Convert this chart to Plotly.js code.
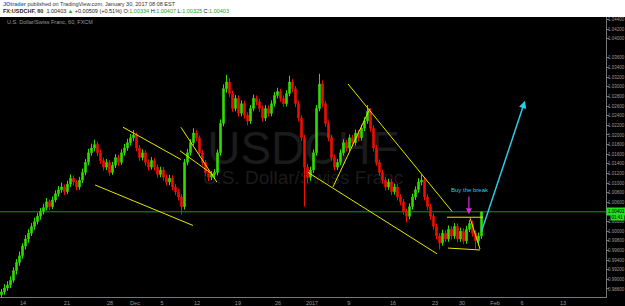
<!DOCTYPE html>
<html><head><meta charset="utf-8">
<script src="https://cdn.plot.ly/plotly-3.0.1.min.js"></script>
<style>html,body{margin:0;padding:0;background:#000;}#chart{width:625px;height:306px;}</style>
</head><body><div id="chart"></div>
<script>
const openP = [0.9868,0.9874,0.9882,0.9888,0.9898,0.9918,0.9935,0.9949,0.9969,0.9984,
0.9996,1.0010,1.0020,1.0031,1.0041,1.0049,1.0061,1.0051,1.0065,1.0078,
1.0086,1.0092,1.0082,1.0098,1.0110,1.0102,1.0092,1.0106,1.0122,1.0143,
1.0163,1.0173,1.0180,1.0163,1.0147,1.0133,1.0143,1.0122,1.0137,1.0153,
1.0143,1.0163,1.0173,1.0184,1.0194,1.0200,1.0173,1.0153,1.0163,1.0143,
1.0133,1.0147,1.0133,1.0118,1.0127,1.0112,1.0102,1.0110,1.0092,1.0082,
1.0071,1.0051,1.0143,1.0163,1.0184,1.0204,1.0194,1.0163,1.0143,1.0122,
1.0112,1.0118,1.0122,1.0163,1.0224,1.0296,1.0310,1.0286,1.0255,1.0276,
1.0245,1.0265,1.0241,1.0229,1.0255,1.0276,1.0269,1.0255,1.0235,1.0255,
1.0245,1.0265,1.0282,1.0290,1.0276,1.0265,1.0286,1.0310,1.0296,1.0265,
1.0235,1.0194,1.0133,1.0112,1.0127,1.0163,1.0255,1.0306,1.0265,1.0224,
1.0194,1.0153,1.0133,1.0143,1.0163,1.0184,1.0173,1.0194,1.0184,1.0204,
1.0194,1.0214,1.0229,1.0249,1.0214,1.0173,1.0143,1.0122,1.0106,1.0092,
1.0102,1.0082,1.0092,1.0071,1.0061,1.0041,1.0031,1.0051,1.0071,1.0086,
1.0102,1.0106,1.0071,1.0051,1.0031,1.0010,0.9990,0.9976,0.9996,0.9984,
1.0004,0.9990,1.0010,0.9984,1.0000,0.9980,1.0004,1.0016,0.9996,0.9980,
0.9990];
const highP = [0.9880,0.9890,0.9896,0.9906,0.9925,0.9942,0.9958,0.9975,0.9992,1.0004,
1.0017,1.0028,1.0038,1.0048,1.0057,1.0069,1.0066,1.0072,1.0085,1.0094,
1.0101,1.0097,1.0105,1.0118,1.0116,1.0107,1.0113,1.0130,1.0150,1.0171,
1.0182,1.0190,1.0186,1.0170,1.0153,1.0150,1.0148,1.0144,1.0160,1.0159,
1.0170,1.0181,1.0192,1.0202,1.0210,1.0205,1.0179,1.0170,1.0168,1.0149,
1.0154,1.0152,1.0139,1.0134,1.0133,1.0118,1.0117,1.0116,1.0098,1.0088,
1.0077,1.0150,1.0171,1.0191,1.0214,1.0210,1.0199,1.0169,1.0148,1.0128,
1.0125,1.0129,1.0170,1.0232,1.0305,1.0325,1.0318,1.0292,1.0283,1.0282,
1.0272,1.0271,1.0247,1.0262,1.0284,1.0282,1.0275,1.0261,1.0262,1.0261,
1.0272,1.0289,1.0298,1.0296,1.0282,1.0293,1.0323,1.0316,1.0302,1.0271,
1.0241,1.0200,1.0140,1.0134,1.0170,1.0262,1.0327,1.0313,1.0271,1.0230,
1.0200,1.0159,1.0150,1.0170,1.0191,1.0190,1.0201,1.0200,1.0211,1.0210,
1.0221,1.0237,1.0262,1.0255,1.0220,1.0179,1.0149,1.0128,1.0112,1.0109,
1.0108,1.0099,1.0098,1.0077,1.0067,1.0047,1.0058,1.0078,1.0093,1.0110,
1.0118,1.0112,1.0077,1.0057,1.0037,1.0016,0.9996,1.0003,1.0002,1.0012,
1.0010,1.0017,1.0016,1.0007,1.0006,1.0011,1.0023,1.0022,1.0002,0.9997,
1.0041];
const lowP = [0.9862,0.9868,0.9876,0.9882,0.9893,0.9910,0.9928,0.9943,0.9962,0.9976,
0.9990,1.0003,1.0014,1.0024,1.0035,1.0043,1.0044,1.0046,1.0060,1.0072,
1.0080,1.0075,1.0077,1.0092,1.0095,1.0085,1.0086,1.0100,1.0116,1.0137,
1.0157,1.0166,1.0156,1.0140,1.0126,1.0127,1.0115,1.0117,1.0131,1.0136,
1.0138,1.0157,1.0167,1.0178,1.0187,1.0166,1.0146,1.0147,1.0136,1.0126,
1.0128,1.0126,1.0111,1.0112,1.0105,1.0095,1.0096,1.0085,1.0075,1.0064,
1.0035,1.0045,1.0137,1.0157,1.0178,1.0187,1.0156,1.0136,1.0115,1.0104,
1.0106,1.0110,1.0116,1.0157,1.0218,1.0288,1.0279,1.0248,1.0249,1.0238,
1.0239,1.0234,1.0220,1.0223,1.0249,1.0262,1.0248,1.0228,1.0229,1.0238,
1.0239,1.0259,1.0276,1.0269,1.0258,1.0259,1.0280,1.0289,1.0258,1.0228,
1.0187,1.0051,1.0100,1.0105,1.0121,1.0157,1.0249,1.0258,1.0217,1.0187,
1.0146,1.0126,1.0127,1.0137,1.0157,1.0166,1.0167,1.0177,1.0178,1.0187,
1.0188,1.0208,1.0223,1.0207,1.0166,1.0136,1.0115,1.0099,1.0085,1.0086,
1.0075,1.0076,1.0064,1.0054,1.0034,1.0018,1.0025,1.0045,1.0065,1.0080,
1.0095,1.0064,1.0044,1.0024,1.0003,0.9983,0.9962,0.9970,0.9977,0.9978,
0.9983,0.9984,0.9977,0.9978,0.9973,0.9974,0.9998,0.9989,0.9964,0.9970,
0.9984];
const closeP = [0.9874,0.9882,0.9888,0.9898,0.9918,0.9935,0.9949,0.9969,0.9984,0.9996,
1.0010,1.0020,1.0031,1.0041,1.0049,1.0061,1.0051,1.0065,1.0078,1.0086,
1.0092,1.0082,1.0098,1.0110,1.0102,1.0092,1.0106,1.0122,1.0143,1.0163,
1.0173,1.0180,1.0163,1.0147,1.0133,1.0143,1.0122,1.0137,1.0153,1.0143,
1.0163,1.0173,1.0184,1.0194,1.0200,1.0173,1.0153,1.0163,1.0143,1.0133,
1.0147,1.0133,1.0118,1.0127,1.0112,1.0102,1.0110,1.0092,1.0082,1.0071,
1.0051,1.0143,1.0163,1.0184,1.0204,1.0194,1.0163,1.0143,1.0122,1.0112,
1.0118,1.0122,1.0163,1.0224,1.0296,1.0310,1.0286,1.0255,1.0276,1.0245,
1.0265,1.0241,1.0229,1.0255,1.0276,1.0269,1.0255,1.0235,1.0255,1.0245,
1.0265,1.0282,1.0290,1.0276,1.0265,1.0286,1.0310,1.0296,1.0265,1.0235,
1.0194,1.0133,1.0112,1.0127,1.0163,1.0255,1.0306,1.0265,1.0224,1.0194,
1.0153,1.0133,1.0143,1.0163,1.0184,1.0173,1.0194,1.0184,1.0204,1.0194,
1.0214,1.0229,1.0249,1.0214,1.0173,1.0143,1.0122,1.0106,1.0092,1.0102,
1.0082,1.0092,1.0071,1.0061,1.0041,1.0031,1.0051,1.0071,1.0086,1.0102,
1.0106,1.0071,1.0051,1.0031,1.0010,0.9990,0.9976,0.9996,0.9984,1.0004,
0.9990,1.0010,0.9984,1.0000,0.9980,1.0004,1.0016,0.9996,0.9980,0.9990,
1.0040];
const lastPrice = 1.00403;
const priceTicks = [0.988,0.990,0.992,0.994,0.996,0.998,1.000,1.002,1.006,1.008,1.010,1.012,1.014,1.016,1.018,1.020,1.022,1.024,1.026,1.028,1.030,1.032,1.034,1.036,1.040,1.042,1.044];
const dateTickPos = [7.2,21.8,36.2,44.5,53.5,65.2,78.8,92.2,103.5,115.8,130.5,144.5,153.5,164.5,173.5,187.2];
const dateTickText = ['14','21','28','Dec','5','12','19','26','2017','9','16','23','30','Feb','6','13'];
// user drawings: [x0,x1] in bar index, [y0,y1] in price
const trendX = [[40.5,59.8],[31.2,63.8],[59.8,71.8],[59.5,70.8],[115.5,150.2],[110.5,122.8],[102.2,145.2],[148.5,160.5],[148.8,159.5],[156.2,159.5]];
const trendY = [[1.0216,1.0149],[1.0096,1.0012],[1.0216,1.0102],[1.0167,1.0116],[1.0306,1.0041],[1.0092,1.0255],[1.0122,0.9953],[1.0029,1.0029],[0.9965,0.9961],[1.0027,0.9963]];
const cyanArrow = {tail:[159.8,0.9996], head:[174.5,1.0271]};
const pinkArrow = {tail:[155.8,1.0075], head:[155.8,1.0035]};
const noteText = 'Buy the break';
const notePos = [156.2,1.0086];

const barIdx = closeP.map((_, i) => i);
const traces = [{
  type:'candlestick', x: barIdx, open: openP, high: highP, low: lowP, close: closeP,
  increasing:{line:{color:'#33dd00', width:1}, fillcolor:'#33dd00'},
  decreasing:{line:{color:'#ee1100', width:1}, fillcolor:'#ee1100'},
  whiskerwidth:0, hoverinfo:'skip', showlegend:false
}];
trendX.forEach((xs, k) => traces.push({type:'scatter', mode:'lines', x: xs, y: trendY[k],
  line:{color:'#e6e600', width:1}, hoverinfo:'skip', showlegend:false}));

const layout = {
  width:625, height:306,
  margin:{l:0, r:19, t:17, b:9},
  paper_bgcolor:'#000', plot_bgcolor:'#000',
  font:{family:'Liberation Sans, Arial, sans-serif', color:'#999'},
  showlegend:false, hovermode:false,
  xaxis:{range:[-0.5,201.5], rangeslider:{visible:false}, showgrid:false, zeroline:false,
    tickmode:'array', tickvals: dateTickPos, ticktext: dateTickText,
    tickfont:{size:5.5, color:'#999'}, ticks:'', showline:true, linecolor:'#777', linewidth:1},
  yaxis:{range:[0.98633,1.0445], side:'right', showgrid:false, zeroline:false,
    tickmode:'array', tickvals: priceTicks, tickformat:'.5f',
    tickfont:{size:4.5, color:'#999'}, ticks:'outside', ticklen:2, tickcolor:'#777',
    ticklabelstandoff:-2,
    showline:true, linecolor:'#777', linewidth:1},
  shapes:[
    {type:'rect', xref:'paper', yref:'paper', x0:-0.05, x1:1.1, y0:1, y1:1.08, fillcolor:'#fff', line:{width:0}, layer:'above'},
    {type:'line', xref:'paper', yref:'y', x0:0, x1:1, y0:lastPrice, y1:lastPrice, line:{color:'#2a8a2a', width:1}, layer:'below'},
    {type:'rect', xref:'paper', yref:'paper', x0:0.2, x1:0.8, y0:0.49, y1:0.6, line:{width:0}, fillcolor:'rgba(0,0,0,0)', layer:'below',
      label:{text:'USDCHF', font:{size:46, color:'#1b1b1b', family:'Liberation Sans, Arial'}, textposition:'middle center'}},
    {type:'rect', xref:'paper', yref:'paper', x0:0.2, x1:0.8, y0:0.40, y1:0.47, line:{width:0}, fillcolor:'rgba(0,0,0,0)', layer:'below',
      label:{text:'U.S. Dollar/Swiss Franc', font:{size:19, color:'#1b1b1b', family:'Liberation Sans, Arial'}, textposition:'middle center'}}
  ],
  annotations:[
    {xref:'paper', yref:'paper', x:0.002, y:1.046, xanchor:'left', yanchor:'middle', showarrow:false,
      text:"<b><span style='color:#2f6fcf'>JOtrader</span></b> published on TradingView.com, January 30, 2017 08:08 EST",
      font:{size:5.5, color:'#333'}},
    {xref:'paper', yref:'paper', x:0.002, y:1.021, xanchor:'left', yanchor:'middle', showarrow:false,
      text:"<b>FX:USDCHF, 60</b>  1.00403 <span style='color:#1a1'>▲</span> +0.00509 (+0.51%) O:<span style='color:#1a1'>1.00334</span> H:<span style='color:#1a1'>1.00407</span> L:<span style='color:#1a1'>1.00325</span> C:<span style='color:#1a1'>1.00403</span>",
      font:{size:5.5, color:'#222'}},
    {xref:'paper', yref:'paper', x:0.008, y:0.982, xanchor:'left', yanchor:'middle', showarrow:false,
      text:'U.S. Dollar/Swiss Franc, 60, FXCM', font:{size:5.5, color:'#999'}},
    {xref:'paper', yref:'y', x:1.0, y:lastPrice, xanchor:'left', yanchor:'middle', showarrow:false,
      text:'1.00403', font:{size:4.5, color:'#000'}, bgcolor:'#22e022', borderpad:1},
    {xref:'paper', yref:'y', x:1.006, y:1.0030, xanchor:'left', yanchor:'middle', showarrow:false,
      text:'01:41', font:{size:4.5, color:'#000'}, bgcolor:'#22e022', borderpad:0.5},
    {x:cyanArrow.head[0], y:cyanArrow.head[1], ax:cyanArrow.tail[0], ay:cyanArrow.tail[1], axref:'x', ayref:'y',
      showarrow:true, arrowhead:2, arrowsize:1, arrowwidth:1.5, arrowcolor:'#2ccbe6', text:''},
    {x:pinkArrow.head[0], y:pinkArrow.head[1], ax:pinkArrow.tail[0], ay:pinkArrow.tail[1], axref:'x', ayref:'y',
      showarrow:true, arrowhead:2, arrowsize:1, arrowwidth:1.2, arrowcolor:'#d42ad4', text:''},
    {x:notePos[0], y:notePos[1], showarrow:false, text:noteText, font:{size:6, color:'#2ccbe6'}}
  ]
};
Plotly.newPlot('chart', traces, layout, {displayModeBar:false, staticPlot:true});
</script></body></html>
